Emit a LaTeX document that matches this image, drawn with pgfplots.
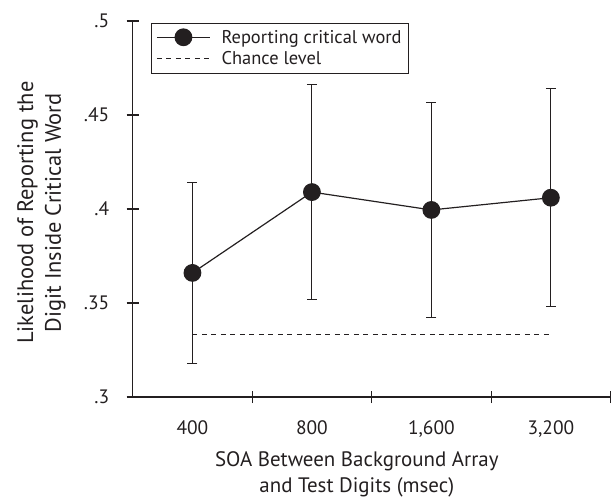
\documentclass[border=0pt]{standalone}
\usepackage{pgfplots}
\pgfplotsset{compat=1.18}
\usepackage{fontspec}
\setmainfont{PT Sans}
\definecolor{ink}{HTML}{231F20}
\pgfplotsset{
  mylineleg/.style={legend image code/.code={%
    \draw[mark repeat=2,mark phase=2,##1] plot coordinates {(0bp,0bp) (26.5bp,0bp) (53bp,0bp)};}},
  mydashleg/.style={legend image code/.code={%
    \draw[##1] (0bp,0bp) -- (53bp,0bp);}},
}
\begin{document}
\begin{tikzpicture}
\path[use as bounding box] (0,0) rectangle (611bp,497bp);
\begin{axis}[
  at={(132.7bp,100bp)}, anchor=south west,
  scale only axis, width=477.9bp, height=376bp,
  xmin=-0.5, xmax=3.5, ymin=0.3, ymax=0.5,
  axis x line*=bottom, axis y line*=left,
  axis line style={ink, line width=1.1pt},
  xtick={0,1,2,3}, xticklabels={400,800,{1,600},{3,200}},
  minor xtick={0.5,1.5,2.5,3.5},
  major x tick style={draw=none},
  ytick={0.3,0.35,0.4,0.45,0.5}, yticklabels={.3,.35,.4,.45,.5},
  tick align=center, major tick length=12bp, minor tick length=12bp,
  tick style={ink, line width=1.1pt},
  ticklabel style={font=\fontsize{19.5}{23}\selectfont, text=ink},
  yticklabel style={xshift=-14bp},
  xticklabel style={yshift=-14bp},
  xlabel={SOA Between Background Array\\and Test Digits (msec)},
  ylabel={Likelihood of Reporting the\\Digit Inside Critical Word},
  xlabel style={font=\fontsize{21}{26}\selectfont, text=ink, align=center,
    at={(axis description cs:0.469,-0.205)}, anchor=center},
  ylabel style={font=\fontsize{22.5}{28}\selectfont, text=ink, align=center,
    at={(axis description cs:-0.191,0.49)}, anchor=center},
  clip=false,
  legend style={at={(axis description cs:0.038,0.996)}, anchor=north west,
    draw=ink, line width=1pt, font=\fontsize{18.5}{21}\selectfont, text=ink,
    inner xsep=5bp, inner ysep=5bp, row sep=3bp, column sep=9bp},
  legend cell align=left,
]
\addplot[ink, line width=1.2pt, mark=*, mark size=8.3bp, mark options={fill=ink, draw=ink},
  mylineleg,
  error bars/.cd, y dir=both, y explicit,
  error bar style={ink, line width=1pt},
  error mark options={rotate=90, mark size=5bp, ink, line width=1pt},
  ]
  coordinates {
  (0,0.366) +- (0,0.048)
  (1,0.409) +- (0,0.057)
  (2,0.3995) +- (0,0.057)
  (3,0.406) +- (0,0.058)
  };
\addlegendentry{Reporting critical word}
\addplot[ink, line width=0.9pt, dash pattern=on 5bp off 4.5bp, mydashleg]
  coordinates {(0,0.3334) (3,0.3334)};
\addlegendentry{Chance level}
\end{axis}
\end{tikzpicture}
\end{document}
